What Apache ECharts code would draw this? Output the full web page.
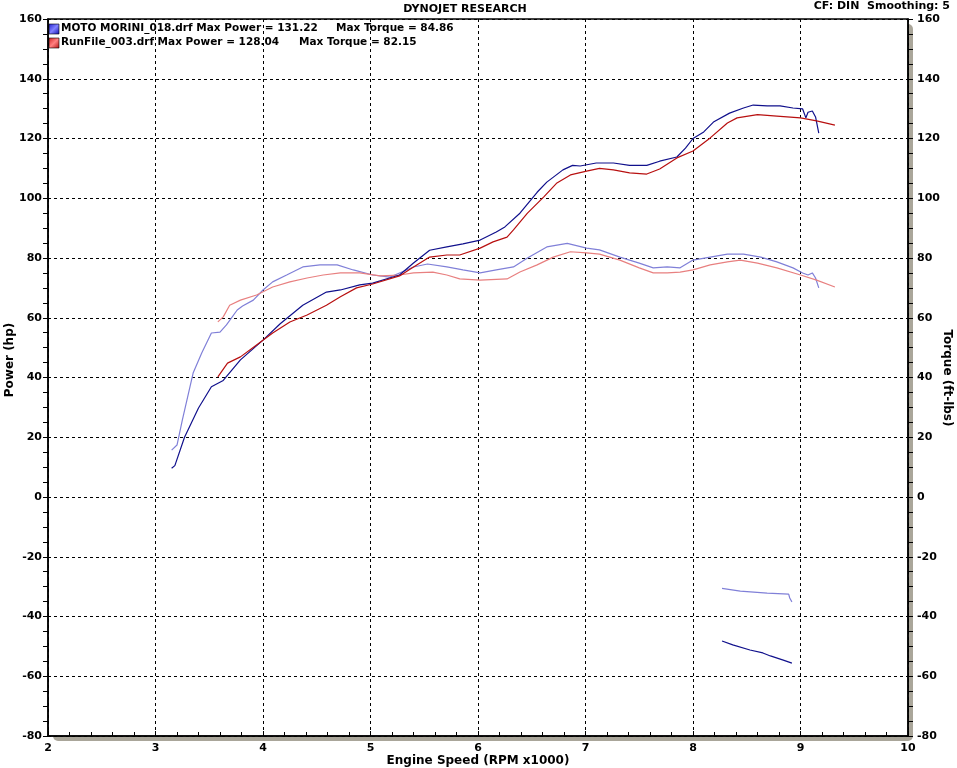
<!DOCTYPE html>
<html><head><meta charset="utf-8">
<script src="https://cdn.jsdelivr.net/npm/echarts@6/dist/echarts.min.js"></script>
<style>html,body{margin:0;padding:0;background:#fff}#c{width:957px;height:768px}</style>
</head><body><div id="c"></div>
<script>
// ---- data ----
var xTicks = [2,3,4,5,6,7,8,9,10];
var yTicks = [-80,-60,-40,-20,0,20,40,60,80,100,120,140,160];

var powerA_rpm = [3.15,3.18,3.27,3.40,3.52,3.63,3.79,4.00,4.16,4.37,4.59,4.72,4.90,5.02,5.27,5.40,5.55,5.71,5.86,6.02,6.17,6.25,6.39,6.55,6.64,6.79,6.88,6.95,7.10,7.26,7.41,7.57,7.69,7.85,7.93,8.00,8.10,8.19,8.34,8.47,8.56,8.69,8.81,8.93,9.02,9.05,9.07,9.11,9.14,9.17];
var powerA_hp  = [9.6,10.5,20,29.8,36.9,39,45.9,52.5,58,64.2,68.6,69.3,71,71.6,74.3,78.3,82.6,83.7,84.7,86,88.7,90.4,95,102,105.4,109.5,111,110.8,111.8,111.8,111,111,112.4,113.8,116.8,120,122.2,125.5,128.5,130.2,131.2,130.9,130.9,130.2,129.9,126.9,128.8,129.2,127.2,121.8];

var powerB_rpm = [3.58,3.67,3.79,3.94,4.09,4.25,4.41,4.59,4.72,4.87,5.02,5.27,5.40,5.55,5.71,5.83,6.02,6.14,6.27,6.33,6.46,6.61,6.73,6.86,7.01,7.13,7.26,7.41,7.57,7.69,7.85,8.00,8.16,8.32,8.41,8.60,8.78,9.00,9.15,9.32];
var powerB_hp  = [40.2,44.8,46.9,50.9,54.9,58.6,60.9,64.2,67,70,71.3,74,77,80.3,81,81,83.3,85.4,87,89.4,95,100.4,105,107.8,109.1,110,109.5,108.5,108.1,109.8,113.5,115.8,120.2,125.2,126.9,128.0,127.5,126.9,125.9,124.5];

var torqueA_rpm = [3.15,3.20,3.25,3.32,3.35,3.43,3.52,3.60,3.66,3.76,3.81,3.91,4.00,4.09,4.22,4.37,4.53,4.69,4.84,5.02,5.18,5.27,5.40,5.53,5.71,5.86,6.02,6.17,6.33,6.46,6.64,6.83,7.01,7.13,7.32,7.50,7.63,7.76,7.88,8.00,8.16,8.32,8.47,8.63,8.78,8.93,9.02,9.07,9.11,9.14,9.17];
var torqueA_ft  = [15.7,17.4,25.8,36.8,41.5,48.2,54.9,55.2,57.6,62.6,63.9,65.9,69.3,72,74.3,77,77.7,77.7,76,74.3,73.6,75,77,78,77,76,75,76,77,80,83.7,84.9,83.3,82.7,80.3,78.3,76.7,77,76.7,79.3,80.3,81.3,81.3,80.3,78.7,76.7,75,74.3,75,73.3,70];

var torqueB_rpm = [3.58,3.63,3.69,3.79,3.94,4.09,4.25,4.41,4.56,4.72,4.90,5.09,5.27,5.40,5.58,5.71,5.83,6.02,6.27,6.39,6.55,6.70,6.86,7.01,7.13,7.32,7.50,7.63,7.76,7.88,8.00,8.16,8.32,8.44,8.60,8.78,9.00,9.15,9.32];
var torqueB_ft  = [58.6,60.3,64.2,65.9,67.6,70.3,72,73.3,74.3,75,75,74,74.3,75,75.3,74.3,73,72.6,73,75.3,77.7,80.3,82.1,81.7,81.3,79.3,76.7,75,75,75.3,76,77.7,78.7,79.3,78.3,76.7,74.3,72.6,70.3];

var auxA_rpm = [8.27,8.44,8.69,8.89,8.90,8.92];
var auxA_val = [-30.6,-31.5,-32.2,-32.5,-33.8,-35.1];
var auxB_rpm = [8.27,8.37,8.53,8.65,8.72,8.84,8.92];
var auxB_val = [-48.2,-49.5,-51.2,-52.2,-53.2,-54.6,-55.6];

var legendRows = [
  {file: 'MOTO MORINI_018.drf Max Power = 131.22', torque: 'Max Torque = 84.86'},
  {file: 'RunFile_003.drf Max Power = 128.04', torque: 'Max Torque = 82.15'}
];
var axisNames = {x:'Engine Speed (RPM x1000)', left:'Power (hp)', right:'Torque (ft-lbs)'};

function zip(xs, ys){ return xs.map(function(x,i){ return [x, ys[i]]; }); }

var FONT = '"DejaVu Sans", Verdana, sans-serif';
var chart = echarts.init(document.getElementById('c'), null, {renderer:'canvas'});

function lineSeries(name, xs, ys, color, yIdx){
  return {name:name, type:'line', xAxisIndex:0, yAxisIndex:yIdx, data:zip(xs,ys),
    showSymbol:false, symbol:'none', smooth:false, animation:false,
    lineStyle:{color:color, width:1.2}, itemStyle:{color:color}, z:3};
}

var axisLabelStyle = {fontFamily:FONT, fontWeight:'bold', fontSize:11, color:'#000'};
var LF = 'bold 10.5px '+FONT;
var NF = 'bold 12px '+FONT;

var option = {
  animation:false,
  backgroundColor:'#fff',
  grid:{left:48, right:49, top:19, bottom:32, containLabel:false, outerBoundsMode:'none',
        show:true, borderColor:'#000', borderWidth:1.5, backgroundColor:'#fff'},
  graphic:[
    {type:'rect', z:-10, shape:{x:53, y:24, width:860, height:717, r:5}, style:{fill:'#aaa69a'}},
    {type:'text', x:465, y:4, style:{text:'DYNOJET RESEARCH', font:'bold 11px '+FONT, fill:'#000', align:'center'}},
    {type:'text', x:950, y:1, style:{text:'CF: DIN  Smoothing: 5', font:'bold 11px '+FONT, fill:'#000', align:'right'}},
    {type:'rect', z:10, shape:{x:49, y:24, width:10, height:10}, style:{fill:new echarts.graphic.LinearGradient(0,0,1,1,[{offset:0,color:'#2020d0'},{offset:0.5,color:'#8080ff'},{offset:1,color:'#1010b0'}]), stroke:'#000', lineWidth:0.6}},
    {type:'rect', z:10, shape:{x:49, y:38, width:10, height:10}, style:{fill:new echarts.graphic.LinearGradient(0,0,1,1,[{offset:0,color:'#d02020'},{offset:0.5,color:'#ff8080'},{offset:1,color:'#b01010'}]), stroke:'#000', lineWidth:0.6}},
    {type:'text', z:10, x:61, y:23, style:{text:legendRows[0].file, font:LF, fill:'#000'}},
    {type:'text', z:10, x:336, y:23, style:{text:legendRows[0].torque, font:LF, fill:'#000'}},
    {type:'text', z:10, x:61, y:37, style:{text:legendRows[1].file, font:LF, fill:'#000'}},
    {type:'text', z:10, x:299, y:37, style:{text:legendRows[1].torque, font:LF, fill:'#000'}},
    {type:'text', x:478, y:761, style:{text:axisNames.x, font:NF, fill:'#000', align:'center', verticalAlign:'middle'}},
    {type:'text', x:10, y:360, rotation:Math.PI/2, style:{text:axisNames.left, font:NF, fill:'#000', align:'center', verticalAlign:'middle'}},
    {type:'text', x:947, y:378, rotation:-Math.PI/2, style:{text:axisNames.right, font:NF, fill:'#000', align:'center', verticalAlign:'middle'}}
  ],
  xAxis:{type:'value', min:xTicks[0], max:xTicks[xTicks.length-1], interval:1,
    axisLine:{show:true, onZero:false, lineStyle:{color:'#000', width:1.5}},
    axisTick:{show:true, inside:true, length:5, lineStyle:{color:'#000'}},
    minorTick:{show:true, splitNumber:5, length:4, lineStyle:{color:'#000'}},
    axisLabel:Object.assign({margin:7}, axisLabelStyle),
    splitLine:{show:true, lineStyle:{color:'#000', type:[3,3], width:1}}
  },
  yAxis:[
    {type:'value', min:yTicks[0], max:yTicks[yTicks.length-1], interval:20, position:'left',
      axisLine:{show:true, onZero:false, lineStyle:{color:'#000', width:1.5}},
      axisTick:{show:true, length:5, lineStyle:{color:'#000'}},
      minorTick:{show:true, splitNumber:4, length:5, lineStyle:{color:'#000'}},
      axisLabel:Object.assign({margin:6}, axisLabelStyle),
      splitLine:{show:true, lineStyle:{color:'#000', type:[3,3], width:1}}
    },
    {type:'value', min:yTicks[0], max:yTicks[yTicks.length-1], interval:20, position:'right',
      axisLine:{show:true, onZero:false, lineStyle:{color:'#000', width:1.5}},
      axisTick:{show:true, length:5, lineStyle:{color:'#000'}},
      minorTick:{show:true, splitNumber:4, length:5, lineStyle:{color:'#000'}},
      axisLabel:Object.assign({margin:9}, axisLabelStyle),
      splitLine:{show:false}
    }
  ],
  series:[
    lineSeries('Torque A', torqueA_rpm, torqueA_ft, '#8080d8', 1),
    lineSeries('Torque B', torqueB_rpm, torqueB_ft, '#e88080', 1),
    lineSeries('Power A', powerA_rpm, powerA_hp, '#10108c', 0),
    lineSeries('Power B', powerB_rpm, powerB_hp, '#b81010', 0),
    lineSeries('Aux A', auxA_rpm, auxA_val, '#8080d8', 1),
    lineSeries('Aux B', auxB_rpm, auxB_val, '#10108c', 0)
  ]
};
chart.setOption(option);
</script>
</body></html>
